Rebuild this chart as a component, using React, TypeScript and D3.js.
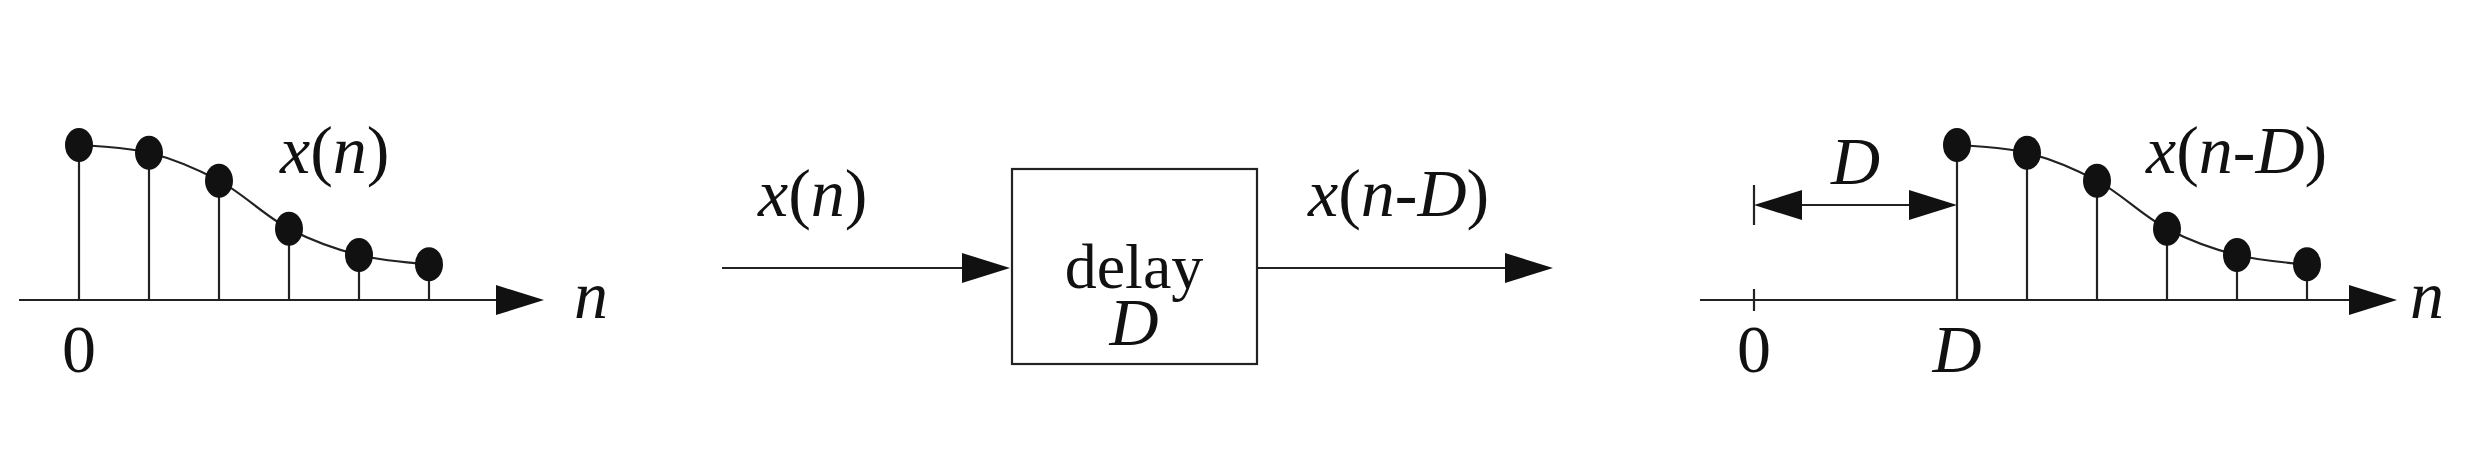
import React, { useEffect } from 'react';
import * as d3 from 'd3';

// sample heights of x(n), relative to the first sample
const samples = [1, 0.95, 0.77, 0.46, 0.29, 0.23];
const sampleIdx = samples.map((_, i) => i);
const delayD = 2.9; // delay in sample steps as drawn

const W = 2472;
const H = 464;
const axisY = 300;
const font = '"Liberation Serif", "Times New Roman", serif';
const FS = 68;

const y = d3.scaleLinear().domain([0, 1]).range([axisY, 145]);
const xLeft = d3.scaleLinear().domain([0, 5]).range([79, 429]);
const xRight = d3.scaleLinear().domain([0, delayD + 5]).range([1754, 1754 + 70 * (delayD + 5)]);

const curve = d3.line<[number, number]>().curve(d3.curveCatmullRom.alpha(0.5));

function ArrowHead({ x, yy, dir = 1, len = 48, half = 15 }: { x: number; yy: number; dir?: number; len?: number; half?: number }) {
  return <path d={`M${x},${yy} L${x - dir * len},${yy - half} L${x - dir * len},${yy + half} Z`} fill="#111" />;
}

function Stems({ sx }: { sx: (i: number) => number }) {
  const pts: [number, number][] = sampleIdx.map(i => [sx(i), y(samples[i])]);
  return (
    <g>
      {pts.map(([px, py], i) => (
        <line key={i} x1={px} x2={px} y1={axisY} y2={py} stroke="#222" strokeWidth={2.2} />
      ))}
      <path d={curve(pts) || ''} fill="none" stroke="#222" strokeWidth={2.2} />
      {pts.map(([px, py], i) => (
        <ellipse key={'d' + i} cx={px} cy={py} rx={14} ry={17} fill="#111" />
      ))}
    </g>
  );
}

export default function App() {
  useEffect(() => {
    document.body.style.margin = '0';
  }, []);
  const txt = { fontFamily: font, fill: '#111' } as const;
  return (
    <svg width={W} height={H} style={{ display: 'block', background: '#fff' }}>
      {/* left: x(n) */}
      <line x1={19} x2={510} y1={axisY} y2={axisY} stroke="#222" strokeWidth={2.2} />
      <ArrowHead x={544} yy={axisY} />
      <Stems sx={i => xLeft(i)} />
      <text x={280} y={173} fontSize={FS} {...txt}><tspan fontStyle="italic">x</tspan>(<tspan fontStyle="italic">n</tspan>)</text>
      <text x={574} y={318} fontSize={FS} fontStyle="italic" {...txt}>n</text>
      <text x={xLeft(0)} y={372} fontSize={FS} textAnchor="middle" {...txt}>0</text>

      {/* middle: delay block */}
      <line x1={722} x2={980} y1={268} y2={268} stroke="#222" strokeWidth={2.2} />
      <ArrowHead x={1010} yy={268} />
      <rect x={1012} y={169} width={245} height={195} fill="none" stroke="#222" strokeWidth={2.2} />
      <text x={1134} y={288} fontSize={64} textAnchor="middle" {...txt}>delay</text>
      <text x={1134} y={345} fontSize={FS} textAnchor="middle" fontStyle="italic" {...txt}>D</text>
      <line x1={1257} x2={1520} y1={268} y2={268} stroke="#222" strokeWidth={2.2} />
      <ArrowHead x={1553} yy={268} />
      <text x={758} y={216} fontSize={FS} {...txt}><tspan fontStyle="italic">x</tspan>(<tspan fontStyle="italic">n</tspan>)</text>
      <text x={1308} y={216} fontSize={FS} {...txt}><tspan fontStyle="italic">x</tspan>(<tspan fontStyle="italic">n</tspan>-<tspan fontStyle="italic">D</tspan>)</text>

      {/* right: x(n-D) */}
      <line x1={1700} x2={2360} y1={axisY} y2={axisY} stroke="#222" strokeWidth={2.2} />
      <ArrowHead x={2397} yy={axisY} />
      <line x1={xRight(0)} x2={xRight(0)} y1={289} y2={311} stroke="#222" strokeWidth={2.2} />
      <line x1={xRight(0)} x2={xRight(0)} y1={185} y2={225} stroke="#222" strokeWidth={2.2} />
      <line x1={xRight(0) + 30} x2={xRight(delayD) - 30} y1={205} y2={205} stroke="#222" strokeWidth={2.2} />
      <ArrowHead x={xRight(0)} yy={205} dir={-1} />
      <ArrowHead x={xRight(delayD)} yy={205} />
      <Stems sx={i => xRight(i + delayD)} />
      <text x={(xRight(0) + xRight(delayD)) / 2} y={184} fontSize={FS} fontStyle="italic" textAnchor="middle" {...txt}>D</text>
      <text x={2146} y={173} fontSize={FS} {...txt}><tspan fontStyle="italic">x</tspan>(<tspan fontStyle="italic">n</tspan>-<tspan fontStyle="italic">D</tspan>)</text>
      <text x={2410} y={318} fontSize={FS} fontStyle="italic" {...txt}>n</text>
      <text x={xRight(0)} y={372} fontSize={FS} textAnchor="middle" {...txt}>0</text>
      <text x={xRight(delayD)} y={372} fontSize={FS} fontStyle="italic" textAnchor="middle" {...txt}>D</text>
    </svg>
  );
}
